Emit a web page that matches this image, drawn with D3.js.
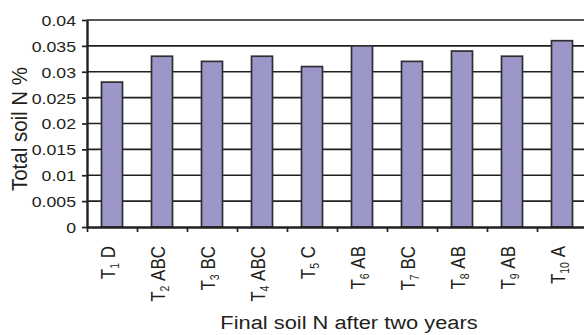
<!DOCTYPE html>
<html>
<head>
<meta charset="utf-8">
<script src="https://cdn.jsdelivr.net/npm/d3@7"></script>
<style>
  html, body { margin: 0; padding: 0; background: #fff; }
  svg { display: block; }
  text { font-family: "Liberation Sans", Arial, sans-serif; fill: #231f20; }
</style>
</head>
<body>
<svg id="chart" width="584" height="335"></svg>
<script>
// Treatments, their subscripts and significance letters
const treatments = ["T1", "T2", "T3", "T4", "T5", "T6", "T7", "T8", "T9", "T10"];
const subscripts = ["1", "2", "3", "4", "5", "6", "7", "8", "9", "10"];
const letters = ["D", "ABC", "BC", "ABC", "C", "AB", "BC", "AB", "AB", "A"];
// Total soil N (%) after two years
const soilN = [0.028, 0.033, 0.032, 0.033, 0.031, 0.035, 0.032, 0.034, 0.033, 0.036];
// Value axis ticks
const yTicks = [0, 0.005, 0.01, 0.015, 0.02, 0.025, 0.03, 0.035, 0.04];
const yTickLabels = ["0", "0.005", "0.01", "0.015", "0.02", "0.025", "0.03", "0.035", "0.04"];

const svg = d3.select("#chart");
const plot = { left: 87, right: 587, top: 20, bottom: 227 };
const ink = "#231f20";

const x = d3.scaleBand()
  .domain(treatments)
  .range([plot.left, plot.right])
  .paddingInner(0.58)
  .paddingOuter(0.29);

const y = d3.scaleLinear().domain([0, 0.04]).range([plot.bottom, plot.top]);

// Horizontal gridlines
svg.append("g")
  .selectAll("line")
  .data(yTicks.filter(d => d > 0))
  .join("line")
  .attr("x1", plot.left).attr("x2", plot.right)
  .attr("y1", d => y(d)).attr("y2", d => y(d))
  .attr("stroke", ink).attr("stroke-width", 1.7);

// Bars
svg.append("g")
  .selectAll("rect")
  .data(treatments)
  .join("rect")
  .attr("x", d => x(d))
  .attr("width", x.bandwidth())
  .attr("y", (d, i) => y(soilN[i]))
  .attr("height", (d, i) => y(0) - y(soilN[i]))
  .attr("fill", "#9b97c9")
  .attr("stroke", "#2f2d30")
  .attr("stroke-width", 1.7);

// Y axis
const yAxis = svg.append("g")
  .attr("transform", `translate(${plot.left},0)`)
  .call(d3.axisLeft(y)
    .tickValues(yTicks)
    .tickSize(5)
    .tickPadding(6)
    .tickSizeOuter(0)
    .tickFormat((d, i) => yTickLabels[i]));
yAxis.select(".domain").attr("stroke", ink).attr("stroke-width", 2.4);
yAxis.selectAll(".tick line").attr("stroke", ink).attr("stroke-width", 1.7);
yAxis.selectAll(".tick text")
  .attr("font-size", 15)
  .attr("fill", ink)
  .attr("x", 0)
  .attr("dy", "0.36em")
  // widen the digits slightly, keeping the right edge fixed next to the tick
  .attr("transform", "translate(-11,0) scale(1.18,1)");

// X axis: boundary ticks between categories
const boundary = d3.scaleLinear().domain([0, treatments.length]).range([plot.left, plot.right]);
const xAxis = svg.append("g")
  .attr("transform", `translate(0,${plot.bottom})`)
  .call(d3.axisBottom(boundary)
    .tickValues(d3.range(0, treatments.length + 1))
    .tickSize(5)
    .tickSizeOuter(0)
    .tickFormat(""));
xAxis.select(".domain").attr("stroke", ink).attr("stroke-width", 2.4);
xAxis.selectAll(".tick line").attr("stroke", ink).attr("stroke-width", 1.7);

// Rotated category labels with subscripts
const labels = svg.append("g")
  .selectAll("text")
  .data(treatments)
  .join("text")
  .attr("transform", d => `translate(${x(d) + x.bandwidth() / 2 + 2.5},246) scale(1.15,1) rotate(-90)`)
  .attr("text-anchor", "end")
  .attr("font-size", 17);
labels.append("tspan").text("T");
labels.append("tspan")
  .attr("font-size", 10.5)
  .attr("dy", 4)
  .text((d, i) => subscripts[i]);
labels.append("tspan")
  .attr("dy", -4)
  .text((d, i) => "\u00a0" + letters[i]);

// Axis titles
svg.append("text")
  .attr("transform", "translate(349,329) scale(1.15,1)")
  .attr("text-anchor", "middle")
  .attr("font-size", 19)
  .text("Final soil N after two years");

svg.append("text")
  .attr("transform", "translate(27,129) scale(1.1,1) rotate(-90)")
  .attr("text-anchor", "middle")
  .attr("font-size", 20.5)
  .text("Total soil N %");
</script>
</body>
</html>
